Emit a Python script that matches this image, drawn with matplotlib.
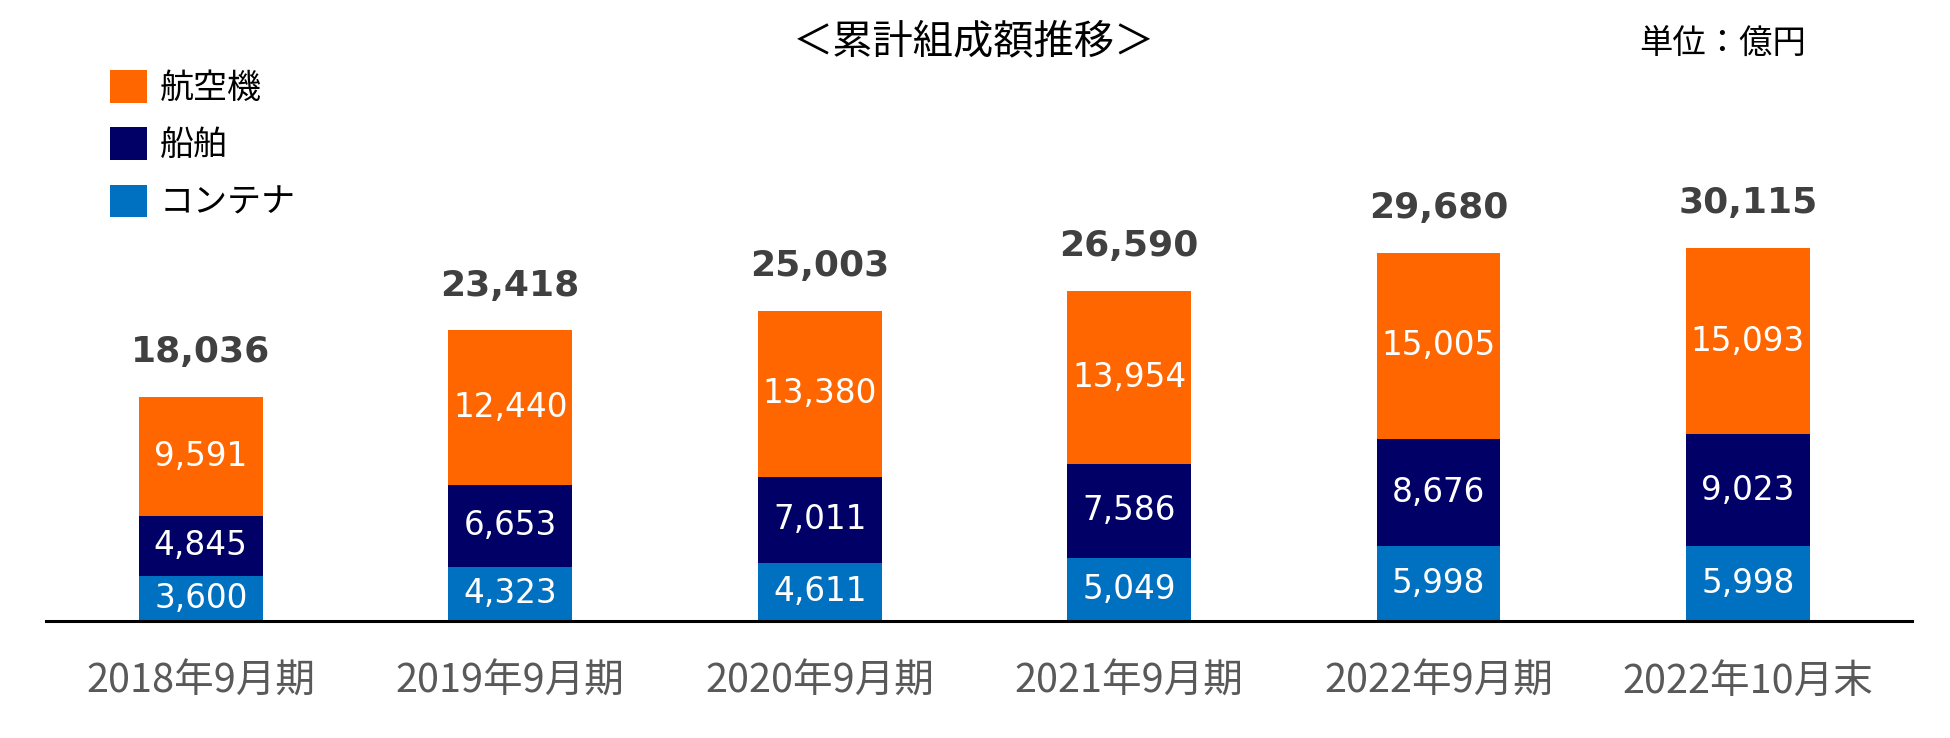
import matplotlib
matplotlib.use("Agg")
import matplotlib.pyplot as plt

plt.rcParams['font.family'] = ['Noto Sans CJK JP', 'DejaVu Sans']

# data (unit: 億円)
periods = ["2018年9月期", "2019年9月期", "2020年9月期",
           "2021年9月期", "2022年9月期", "2022年10月末"]
container = [3600, 4323, 4611, 5049, 5998, 5998]
ship = [4845, 6653, 7011, 7586, 8676, 9023]
aircraft = [9591, 12440, 13380, 13954, 15005, 15093]
totals = [18036, 23418, 25003, 26590, 29680, 30115]

series_names = ["コンテナ", "船舶", "航空機"]
colors = ["#0070C0", "#000066", "#FF6600"]

fig = plt.figure(figsize=(19.5, 7.38), dpi=100)
ax = fig.add_axes([0.0236, 0.1592, 0.9569, 0.8408])

x = range(len(periods))
bottom = [0] * len(periods)
containers = []
for name, vals, col in zip(series_names, [container, ship, aircraft], colors):
    bc = ax.bar(x, vals, width=0.40, bottom=bottom, color=col, label=name,
                edgecolor="none", zorder=2)
    containers.append(bc)
    ax.bar_label(bc, labels=[f"{v:,}" for v in vals], label_type="center",
                 color="white", fontsize=23.5, family="DejaVu Sans")
    bottom = [b + v for b, v in zip(bottom, vals)]

# totals over the stacks
ax.bar_label(containers[-1], labels=[f"{t:,}" for t in totals], padding=20,
             color="#404040", fontsize=26, fontweight="bold", family="DejaVu Sans")

ax.set_xlim(-0.5, 5.53)
ax.set_ylim(0, 50100)
ax.set_xticks(list(x))
ax.set_xticklabels(periods, fontsize=28.5, color="#595959")
ax.tick_params(axis="x", length=0, pad=30)
ax.set_yticks([])
for s in ["top", "left", "right"]:
    ax.spines[s].set_visible(False)
ax.spines["bottom"].set_linewidth(2.2)
ax.spines["bottom"].set_color("black")
ax.spines["bottom"].set_zorder(3)

handles, labels = ax.get_legend_handles_labels()
fig.legend(handles[::-1], labels[::-1], loc="upper left",
           bbox_to_anchor=(0.0564, 0.905), frameon=False, fontsize=24.5,
           handlelength=1.09, handleheight=1.09, handletextpad=0.38,
           labelspacing=0.63, borderpad=0, borderaxespad=0)

fig.text(974 / 1950, 1 - 42 / 738, "＜累計組成額推移＞", fontsize=29,
         ha="center", va="center", color="black")
fig.text(1723 / 1950, 1 - 43 / 738, "単位：億円", fontsize=24,
         ha="center", va="center", color="black")

fig.savefig("out.png", dpi=100)
